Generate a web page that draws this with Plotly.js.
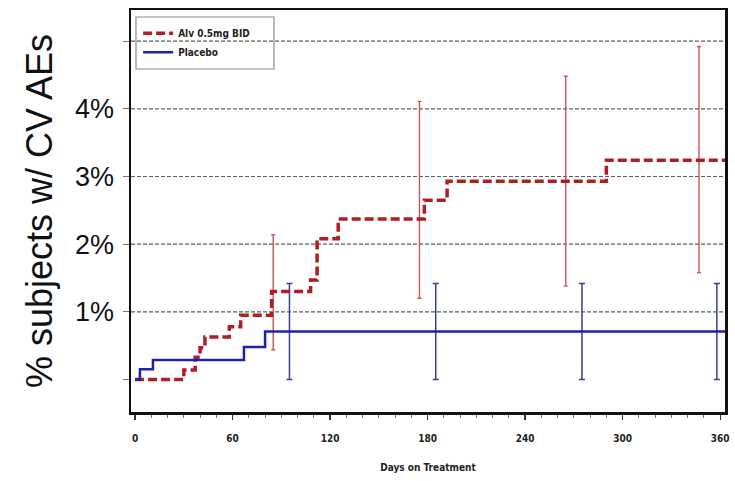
<!DOCTYPE html>
<html>
<head>
<meta charset="utf-8">
<script src="https://cdn.plot.ly/plotly-3.0.1.min.js"></script>
<style>html,body{margin:0;padding:0;background:#fff;}#chart{width:735px;height:481px;}</style>
</head>
<body>
<div id="chart"></div>
<script>
// ---- data ----
const alvName = "Alv 0.5mg BID";
const plcName = "Placebo";
const alvDays = [0, 30, 37, 40, 43, 58, 65, 84, 108, 112, 125, 178, 192, 290, 363];
const alvPct  = [0, 0.14, 0.33, 0.47, 0.63, 0.78, 0.95, 1.30, 1.47, 2.08, 2.37, 2.65, 2.93, 3.24, 3.24];
const plcDays = [0, 3, 11, 67, 80, 363];
const plcPct  = [0, 0.15, 0.29, 0.48, 0.71, 0.71];
const alvErrDays = [85, 175, 265, 347];
const alvErrPct  = [1.30, 2.37, 2.93, 3.24];
const alvErrUp   = [0.84, 1.74, 1.55, 1.68];
const alvErrDn   = [0.86, 1.17, 1.55, 1.66];
const plcErrDays = [95, 185, 275, 358];
const plcErrPct  = [0.71, 0.71, 0.71, 0.71];
const plcErrUp   = [0.71, 0.71, 0.71, 0.71];
const plcErrDn   = [0.71, 0.71, 0.71, 0.71];
const xTickVals = [0, 60, 120, 180, 240, 300, 360];
const xTickText = ["0", "60", "120", "180", "240", "300", "360"];
const yTickVals = [0, 1, 2, 3, 4, 5];
const yTickText = ["", "1%", "2%", "3%", "4%", ""];
const gridVals  = [1, 2, 3, 4, 5];
const xTitle = "Days on Treatment";
const yTitle = "% subjects w/ CV AEs";

const RED = "#ad1f25", REDBAR = "#cf5258", BLUE = "#1f21a6", BLUEBAR = "#3a3f8f";
const narrow = "Liberation Sans Narrow, DejaVu Sans Condensed, Arial Narrow, sans-serif";

const traces = [
  {x: alvErrDays, y: alvErrPct, mode: "markers", marker: {size: 1, opacity: 0},
   error_y: {type: "data", symmetric: false, array: alvErrUp, arrayminus: alvErrDn,
             color: REDBAR, thickness: 1.4, width: 2},
   showlegend: false, hoverinfo: "skip"},
  {x: plcErrDays, y: plcErrPct, mode: "markers", marker: {size: 1, opacity: 0},
   error_y: {type: "data", symmetric: false, array: plcErrUp, arrayminus: plcErrDn,
             color: BLUEBAR, thickness: 1.5, width: 3},
   showlegend: false, hoverinfo: "skip"},
  {x: alvDays, y: alvPct, name: alvName, mode: "lines",
   line: {shape: "hv", color: RED, width: 3.5, dash: "9px,4px"}},
  {x: plcDays, y: plcPct, name: plcName, mode: "lines",
   line: {shape: "hv", color: BLUE, width: 2.5}}
];

const shapes = gridVals.map(v => ({
  type: "line", xref: "paper", x0: 0, x1: 1, yref: "y", y0: v, y1: v,
  line: {color: "#556355", width: 1.2, dash: "4px,2px"}, layer: "below"
}));
shapes.push({type: "rect", xref: "paper", yref: "paper",
  x0: 5/594, x1: 143/594, y0: (412-69)/402, y1: (412-17)/402,
  line: {color: "#8a8a8a", width: 1.2}, fillcolor: "rgba(0,0,0,0)", layer: "above"});

const layout = {
  width: 735, height: 481,
  margin: {l: 131, r: 10, t: 10, b: 69},
  paper_bgcolor: "#fff", plot_bgcolor: "#fff",
  showlegend: true,
  legend: {x: 0.012, y: 0.978, xanchor: "left", yanchor: "top",
           bgcolor: "rgba(0,0,0,0)", borderwidth: 0,
           font: {family: narrow, size: 10, color: "#222", weight: "bold"},
           tracegroupgap: 0, itemwidth: 30},
  xaxis: {range: [-2.5, 363], tickvals: xTickVals, ticktext: xTickText,
          ticks: "outside", ticklen: 5, tickwidth: 1.2, tickcolor: "#333",
          minor: {dtick: 10, tick0: 0, ticks: "outside", ticklen: 3, tickcolor: "#777", tickwidth: 1},
          showgrid: false, zeroline: false,
          showline: true, linecolor: "#111", linewidth: 2.5, mirror: true,
          ticklabelstandoff: 10,
          tickfont: {family: narrow, size: 10, color: "#222", weight: "bold"},
          title: {text: xTitle, standoff: 22,
                  font: {family: narrow, size: 10, color: "#222", weight: "bold"}}},
  yaxis: {range: [-0.48, 5.46], tickvals: yTickVals, ticktext: yTickText,
          ticks: "outside", ticklen: 6, tickwidth: 1.2, tickcolor: "#777",
          showgrid: false, zeroline: false,
          showline: true, linecolor: "#111", linewidth: 2.5, mirror: true,
          ticklabelstandoff: 3,
          tickfont: {family: "Liberation Sans, Arial, sans-serif", size: 27, color: "#111"},
          title: {text: yTitle, standoff: 12,
                  font: {family: "Liberation Sans, Arial, sans-serif", size: 36, color: "#111"}}},
  shapes: shapes
};

Plotly.newPlot("chart", traces, layout, {staticPlot: true, displayModeBar: false});
</script>
</body>
</html>
